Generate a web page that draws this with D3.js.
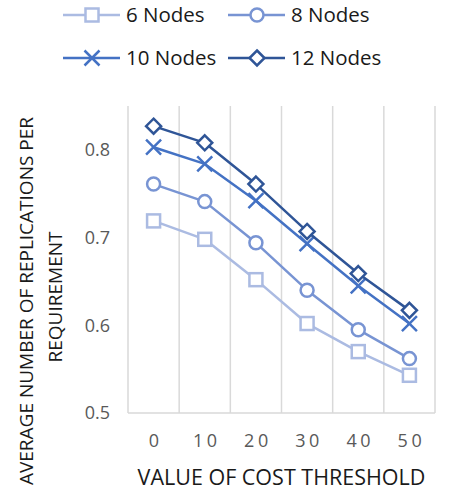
<!DOCTYPE html>
<html>
<head>
<meta charset="utf-8">
<script src="https://cdn.jsdelivr.net/npm/d3@7"></script>
<style>
  body { margin: 0; background: #fff; }
  svg { display: block; font-family: "Open Sans", sans-serif; }
</style>
</head>
<body>
<svg id="chart" width="455" height="495"></svg>
<script>
const thresholds = ["0", "10", "20", "30", "40", "50"];
const seriesNames = ["6 Nodes", "8 Nodes", "10 Nodes", "12 Nodes"];
const nodes6 = [0.719, 0.698, 0.652, 0.602, 0.570, 0.543];
const nodes8 = [0.761, 0.741, 0.694, 0.640, 0.595, 0.562];
const nodes10 = [0.803, 0.784, 0.742, 0.693, 0.645, 0.602];
const nodes12 = [0.827, 0.808, 0.761, 0.707, 0.659, 0.617];
const yTicks = [0.5, 0.6, 0.7, 0.8];

const series = [
  { name: seriesNames[0], values: nodes6, color: "#abbbe2", marker: "square" },
  { name: seriesNames[1], values: nodes8, color: "#7894d3", marker: "circle" },
  { name: seriesNames[2], values: nodes10, color: "#4472c4", marker: "x" },
  { name: seriesNames[3], values: nodes12, color: "#2f5597", marker: "diamond" },
];

const svg = d3.select("#chart");
const m = { left: 128, right: 20, top: 106, bottom: 82 };
const W = 455, H = 495;

const x = d3.scaleBand().domain(thresholds).range([m.left, W - m.right]);
const y = d3.scaleLinear().domain([0.5, 0.85]).range([H - m.bottom, m.top]);

// vertical gridlines at category boundaries
const bounds = thresholds.map(t => x(t)).concat([x.range()[1]]);
svg.append("g").selectAll("line")
  .data(bounds)
  .join("line")
  .attr("x1", d => d).attr("x2", d => d)
  .attr("y1", m.top).attr("y2", y(0.5))
  .attr("stroke", "#d9d9d9").attr("stroke-width", 1.5);

// bottom axis line
svg.append("line")
  .attr("x1", m.left).attr("x2", x.range()[1])
  .attr("y1", y(0.5)).attr("y2", y(0.5))
  .attr("stroke", "#d9d9d9").attr("stroke-width", 1.5);

// y tick labels
svg.append("g").selectAll("text")
  .data(yTicks)
  .join("text")
  .attr("x", 110).attr("y", d => y(d))
  .attr("dy", "0.36em")
  .attr("text-anchor", "end")
  .attr("font-size", 18)
  .attr("fill", "#595959")
  .text(d => d.toFixed(1));

// x tick labels
svg.append("g").selectAll("text")
  .data(thresholds)
  .join("text")
  .attr("x", d => x(d) + x.bandwidth() / 2 + 2)
  .attr("y", 441)
  .attr("dy", "0.36em")
  .attr("text-anchor", "middle")
  .attr("font-size", 18)
  .attr("letter-spacing", "3.5px")
  .attr("fill", "#595959")
  .text(d => d);

// axis titles
svg.append("text")
  .attr("x", (x.range()[0] + x.range()[1]) / 2)
  .attr("y", 485)
  .attr("text-anchor", "middle")
  .attr("font-size", 21.5)
  .attr("fill", "#1a1a1a")
  .text("VALUE OF COST THRESHOLD");

const yTitle = svg.append("text")
  .attr("transform", "translate(0, 301) rotate(-90)")
  .attr("text-anchor", "middle")
  .attr("font-size", 19)
  .attr("fill", "#1a1a1a");
yTitle.append("tspan").attr("x", 0).attr("y", 33).text("AVERAGE NUMBER OF REPLICATIONS PER");
yTitle.append("tspan").attr("x", 4).attr("y", 62).text("REQUIREMENT");

function drawMarker(g, type, color) {
  const s = 6.5;
  if (type === "square") {
    g.append("rect").attr("x", -s).attr("y", -s).attr("width", 2 * s).attr("height", 2 * s)
      .attr("fill", "#fff").attr("stroke", color).attr("stroke-width", 2.5);
  } else if (type === "circle") {
    g.append("circle").attr("r", s)
      .attr("fill", "#fff").attr("stroke", color).attr("stroke-width", 2.5);
  } else if (type === "diamond") {
    g.append("path").attr("d", `M0,${-s - 1}L${s + 1},0L0,${s + 1}L${-s - 1},0Z`)
      .attr("fill", "#fff").attr("stroke", color).attr("stroke-width", 2.5);
  } else if (type === "x") {
    g.append("path").attr("d", `M${-s - 1},${-s - 1}L${s + 1},${s + 1}M${-s - 1},${s + 1}L${s + 1},${-s - 1}`)
      .attr("fill", "none").attr("stroke", color).attr("stroke-width", 2.5);
  }
}

const line = d3.line()
  .x((d, i) => x(thresholds[i]) + x.bandwidth() / 2)
  .y(d => y(d));

series.forEach(s => {
  svg.append("path")
    .datum(s.values)
    .attr("d", line)
    .attr("fill", "none")
    .attr("stroke", s.color)
    .attr("stroke-width", 2.5)
    .attr("stroke-linejoin", "round");
  s.values.forEach((v, i) => {
    const g = svg.append("g")
      .attr("transform", `translate(${x(thresholds[i]) + x.bandwidth() / 2},${y(v)})`);
    drawMarker(g, s.marker, s.color);
  });
});

// legend
const legendPos = [[63, 15], [228, 15], [63, 58], [228, 58]];
series.forEach((s, i) => {
  const [lx, ly] = legendPos[i];
  const g = svg.append("g").attr("transform", `translate(${lx},${ly})`);
  g.append("line").attr("x1", 0).attr("x2", 57).attr("y1", 0).attr("y2", 0)
    .attr("stroke", s.color).attr("stroke-width", 2.5);
  const mg = g.append("g").attr("transform", "translate(29,0)");
  drawMarker(mg, s.marker, s.color);
  g.append("text")
    .attr("x", 63).attr("y", 7.3)
    .attr("font-size", 20.5)
    .attr("fill", "#1a1a1a")
    .text(s.name);
});
</script>
</body>
</html>
